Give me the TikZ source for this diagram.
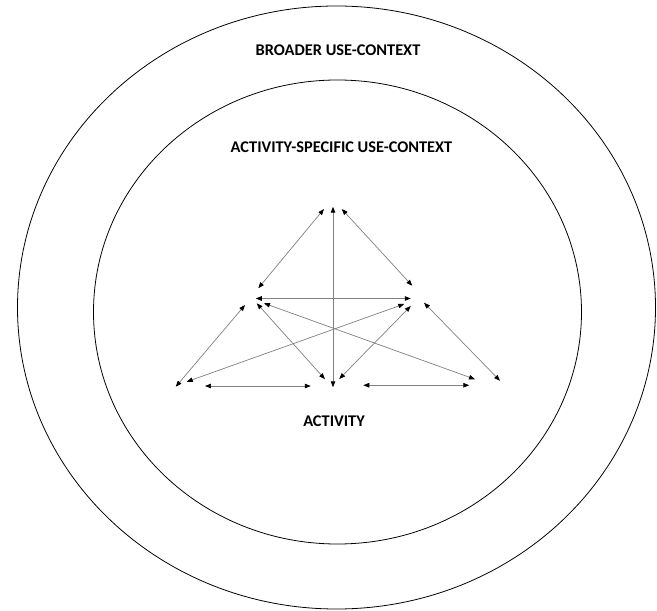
\documentclass[tikz,border=0pt]{standalone}
\usepackage{fontspec}
\setmainfont{Carlito}
\usetikzlibrary{arrows.meta}

\begin{document}
\begin{tikzpicture}[
  ring/.style={draw=black, line width=0.9pt},
  lbl/.style={font=\fontsize{18.6}{22}\selectfont\bfseries},
  rel/.style={{Triangle[length=2.4mm, width=1.8mm, color=black]}-{Triangle[length=2.4mm, width=1.8mm, color=black]},
    draw=black!50, line width=0.8pt},
]
\useasboundingbox (-13.44,-12.16) rectangle (12.84,12.24);
% context rings
\draw[ring] (0.02,-0.06) ellipse [x radius=12.76, y radius=12.06];
\draw[ring] (0.06,-0.24) ellipse [x radius=9.76, y radius=9.28];
\node[lbl] (broad) at (0.08,10.24) {BROADER USE-CONTEXT};
\node[lbl] (spec) at (0.22,6.36) {ACTIVITY-SPECIFIC USE-CONTEXT};
\node[lbl] (act) at (-0.08,-4.62) {ACTIVITY};
% arrow ends, upper triangle
\coordinate (p1) at (-0.48,3.88);  \coordinate (q1) at (-3.11,0.71);
\coordinate (p2) at (-0.12,3.97);  \coordinate (q2) at (-0.12,-3.25);
\coordinate (p3) at (0.23,3.88);   \coordinate (q3) at (3.05,0.81);
\coordinate (p4) at (-3.21,0.30);  \coordinate (q4) at (2.99,0.30);
% arrow ends, lower part
\coordinate (p5) at (-3.64,0.04);  \coordinate (q5) at (-6.41,-3.23);
\coordinate (p6) at (-3.17,0.11);  \coordinate (q6) at (-0.44,-2.93);
\coordinate (p7) at (-2.88,0.11);  \coordinate (q7) at (5.56,-2.93);
\coordinate (p8) at (2.73,0.08);   \coordinate (q8) at (-5.97,-3.03);
\coordinate (p9) at (2.99,0.00);   \coordinate (q9) at (0.13,-2.92);
\coordinate (p10) at (3.52,0.13);  \coordinate (q10) at (6.56,-2.99);
\coordinate (p11) at (-5.24,-3.20); \coordinate (q11) at (-1.01,-3.20);
\coordinate (p12) at (1.09,-3.17); \coordinate (q12) at (5.33,-3.17);
% relations
\draw[rel] (p1) -- (q1); \draw[rel] (p2) -- (q2); \draw[rel] (p3) -- (q3);
\draw[rel] (p4) -- (q4); \draw[rel] (p5) -- (q5); \draw[rel] (p6) -- (q6);
\draw[rel] (p7) -- (q7); \draw[rel] (p8) -- (q8); \draw[rel] (p9) -- (q9);
\draw[rel] (p10) -- (q10); \draw[rel] (p11) -- (q11); \draw[rel] (p12) -- (q12);
\end{tikzpicture}
\end{document}
